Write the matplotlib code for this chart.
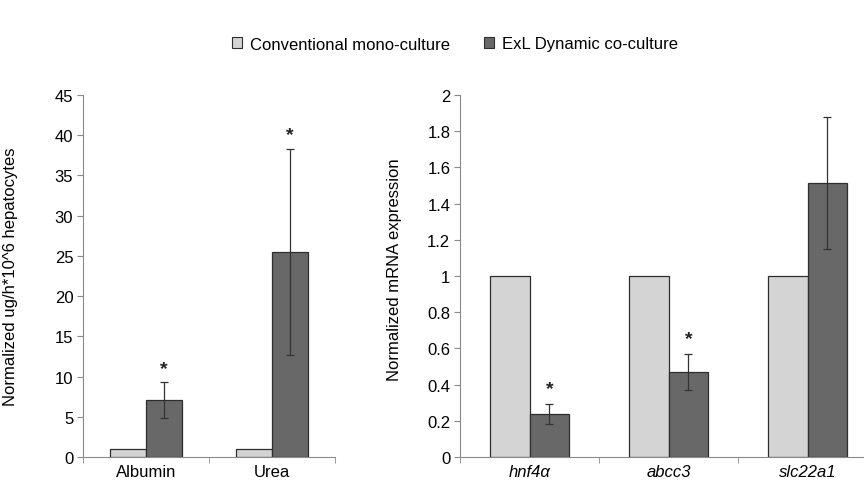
import numpy as np
import matplotlib
matplotlib.use('Agg')
from matplotlib import pyplot as plt
from matplotlib.patches import Patch

plt.rcParams['font.family'] = ['Liberation Sans', 'DejaVu Sans']

# secretion data (left panel)
sec_cats = ['Albumin', 'Urea']
sec_mono = [1, 1]
sec_dyn = [7.1, 25.5]
sec_err = [2.2, 12.8]
sec_star = [True, True]

# gene expression (right panel)
gene_cats = ['hnf4α', 'abcc3', 'slc22a1']
gene_mono = [1, 1, 1]
gene_dyn = [0.24, 0.47, 1.515]
gene_err = [0.055, 0.1, 0.365]
gene_star = [True, True, False]

light = '#d4d4d4'
dark = '#686868'
edge = '#2e2e2e'
axcol = '#8a8a8a'
fs = 12

fig = plt.figure(figsize=(8.64, 4.85), dpi=100)


def panel(ax, cats, mono, dyn, err, star, ylim, step, ylabel, italic, star_off):
    n = len(cats)
    x = np.arange(n)
    w = 1 / 3.5
    ax.bar(x - w / 2, mono, w, color=light, edgecolor=edge, linewidth=0.9)
    ax.bar(x + w / 2, dyn, w, color=dark, edgecolor=edge, linewidth=0.9)
    ax.errorbar(x + w / 2, dyn, yerr=err, fmt='none', ecolor='#333333',
                elinewidth=0.9, capsize=3, capthick=0.9)
    for i in range(n):
        if star[i]:
            ax.annotate('*', (x[i] + w / 2, dyn[i] + err[i]), xytext=(0, star_off),
                        textcoords='offset points', ha='center', va='center',
                        fontsize=14, fontweight='bold', color='#222222')
    ax.set_xlim(-0.5, n - 0.5)
    ax.set_ylim(*ylim)
    ax.set_yticks(np.arange(ylim[0], ylim[1] + step / 2, step))
    ax.set_yticklabels(['%g' % v for v in np.arange(ylim[0], ylim[1] + step / 2, step)])
    ax.set_xticks(x)
    ax.set_xticklabels(cats, fontstyle='italic' if italic else 'normal')
    ax.set_xticks(np.arange(-0.5, n, 1), minor=True)
    ax.tick_params(axis='x', which='major', length=0, labelsize=fs, pad=5)
    ax.tick_params(axis='x', which='minor', length=4, color=axcol, direction='out')
    ax.tick_params(axis='y', length=4, color=axcol, labelsize=fs, pad=3)
    for s in ['top', 'right']:
        ax.spines[s].set_visible(False)
    for s in ['left', 'bottom']:
        ax.spines[s].set_color(axcol)
    ax.set_ylabel(ylabel, fontsize=fs)


ax1 = fig.add_axes([83 / 864, 27 / 485, 252 / 864, 362 / 485])
panel(ax1, sec_cats, sec_mono, sec_dyn, sec_err, sec_star, (0, 45), 5,
      'Normalized ug/h*10^6 hepatocytes', False, 10)
ax1.yaxis.set_label_coords((18 - 83) / 252, 0.5)

ax2 = fig.add_axes([460 / 864, 27 / 485, 417 / 864, 362 / 485])
panel(ax2, gene_cats, gene_mono, gene_dyn, gene_err, gene_star, (0, 2), 0.2,
      'Normalized mRNA expression', True, 11)
ax2.set_yticklabels(['0', '0.2', '0.4', '0.6', '0.8', '1', '1.2', '1.4', '1.6', '1.8', '2'])
ax2.yaxis.set_label_coords((402 - 460) / 417, 0.52)

handles = [Patch(facecolor=light, edgecolor=edge, linewidth=0.8),
           Patch(facecolor=dark, edgecolor=edge, linewidth=0.8)]
fig.legend(handles, ['Conventional mono-culture', 'ExL Dynamic co-culture'],
           loc='center', bbox_to_anchor=(455 / 864, 1 - 45 / 485), ncol=2,
           frameon=False, fontsize=fs, handlelength=0.6, handleheight=0.6,
           handletextpad=0.5, columnspacing=2.0)

fig.savefig('out.png', dpi=100)
